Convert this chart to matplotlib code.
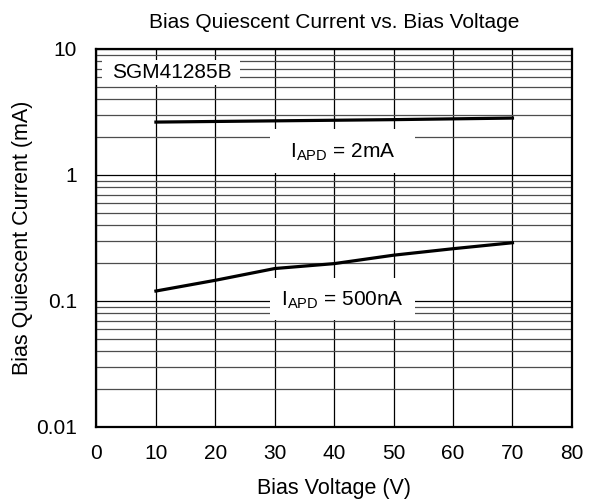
import numpy as np
import matplotlib
matplotlib.use('Agg')
import matplotlib.pyplot as plt
from matplotlib.patches import Rectangle
from matplotlib.ticker import LogLocator, NullFormatter, FixedLocator, FixedFormatter

plt.rcParams['font.family'] = ['Liberation Sans', 'DejaVu Sans']
plt.rcParams['mathtext.fontset'] = 'custom'
plt.rcParams['mathtext.rm'] = 'Liberation Sans'

#Data
voltage = [10, 20, 30, 40, 50, 60, 70]
i_2mA = [2.63, 2.66, 2.69, 2.72, 2.75, 2.79, 2.83]
i_500nA = [0.120, 0.146, 0.181, 0.198, 0.231, 0.260, 0.290]

y_ticks = [0.01, 0.1, 1, 10]
y_labels = ['0.01', '0.1', '1', '10']
x_ticks = [0, 10, 20, 30, 40, 50, 60, 70, 80]

fig = plt.figure(figsize=(5.92, 5.0), dpi=100)
ax = fig.add_axes([0.163, 0.146, 0.803, 0.756])

ax.set_yscale('log')
ax.set_xlim(0, 80)
ax.set_ylim(0.01, 10)

ax.yaxis.set_major_locator(FixedLocator(y_ticks))
ax.yaxis.set_major_formatter(FixedFormatter(y_labels))
ax.yaxis.set_minor_locator(LogLocator(base=10, subs=np.arange(2, 10)))
ax.yaxis.set_minor_formatter(NullFormatter())
ax.set_xticks(x_ticks)

ax.grid(True, which='major', color='black', linewidth=0.9)
ax.grid(True, which='minor', axis='y', color='0.3', linewidth=0.9)
ax.tick_params(which='both', length=0, labelsize=15)
ax.tick_params(axis='x', pad=12)
ax.tick_params(axis='y', pad=14)

for s in ax.spines.values():
    s.set_linewidth(1.6)

ax.plot(voltage, i_2mA, color='black', linewidth=2.3, zorder=5)
ax.plot(voltage, i_500nA, color='black', linewidth=2.3, zorder=5)

#White label boxes (axes fraction)
for (x0, y0, w, h) in [(0.011, 0.905, 0.29, 0.065), (0.365, 0.672, 0.305, 0.116), (0.365, 0.283, 0.305, 0.111)]:
    ax.add_patch(Rectangle((x0, y0), w, h, transform=ax.transAxes, facecolor='white',
                           edgecolor='none', zorder=3))

ax.text(0.033, 0.937, 'SGM41285B', transform=ax.transAxes, fontsize=15, ha='left', va='center', zorder=6)
ax.text(0.517, 0.728, r'I$_{\mathregular{APD}}$ = 2mA', transform=ax.transAxes, fontsize=15,
        ha='center', va='center', zorder=6)
ax.text(0.517, 0.336, r'I$_{\mathregular{APD}}$ = 500nA', transform=ax.transAxes, fontsize=15,
        ha='center', va='center', zorder=6)

ax.set_xlabel('Bias Voltage (V)', fontsize=15.5, labelpad=11)
ax.set_ylabel('Bias Quiescent Current (mA)', fontsize=15.5)
ax.yaxis.set_label_coords(-0.134, 0.5)
ax.set_title('Bias Quiescent Current vs. Bias Voltage', fontsize=15, pad=15)

plt.savefig('out.png', dpi=100)
